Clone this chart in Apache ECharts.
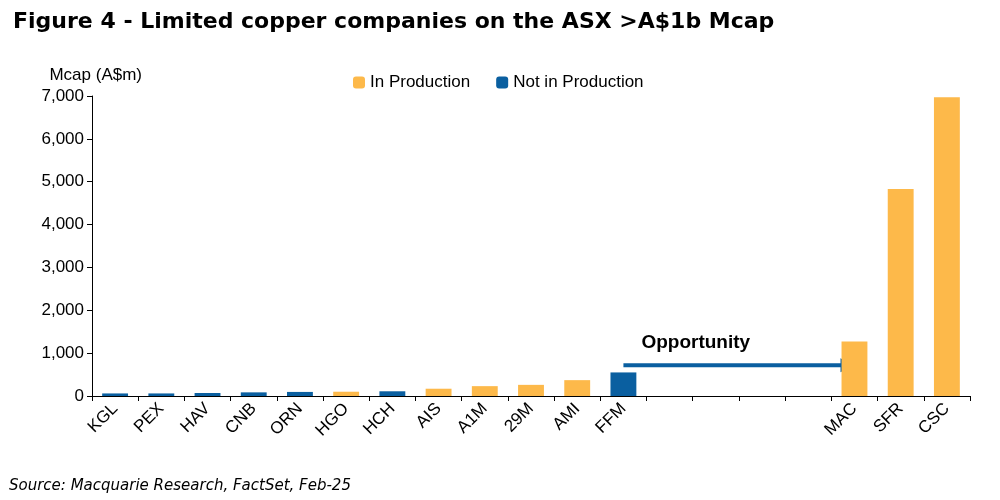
<!DOCTYPE html><html><head><meta charset="utf-8"><script src="https://cdn.jsdelivr.net/npm/echarts@6/dist/echarts.min.js"></script></head><body style="margin:0"><div id="c" style="width:1000px;height:500px"></div><script>
const categories=['KGL','PEX','HAV','CNB','ORN','HGO','HCH','AIS','A1M','29M','AMI','FFM','','','','','MAC','SFR','CSC'];
const inProduction=[null,null,null,null,null,100,null,170,230,260,370,null,null,null,null,null,1270,4830,6970];
const notInProduction=[60,60,70,85,95,null,110,null,null,null,null,550,null,null,null,null,null,null,null];
const yTicks=[0,1000,2000,3000,4000,5000,6000,7000];
const ch=echarts.init(document.getElementById('c'));
ch.setOption({
 animation:false,
 title:[{text:'Figure 4 - Limited copper companies on the ASX >A$1b Mcap',left:8,top:6,textStyle:{fontFamily:'DejaVu Sans',fontWeight:'bold',fontSize:22,color:'#000'}},
  {text:'Source: Macquarie Research, FactSet, Feb-25',left:4,top:474,textStyle:{fontFamily:'DejaVu Sans',fontStyle:'italic',fontWeight:'normal',fontSize:15,color:'#000'}}],
 legend:{top:69,left:348,itemWidth:12,itemHeight:12,itemGap:26,textStyle:{fontFamily:'Liberation Sans',fontSize:17,color:'#000'},data:['In Production','Not in Production']},
 grid:{left:92,right:30,top:96,bottom:104},
 xAxis:{type:'category',data:categories,axisLine:{lineStyle:{color:'#000'}},axisTick:{show:true,lineStyle:{color:'#000'}},
  axisLabel:{rotate:45,interval:0,fontFamily:'Liberation Sans',fontSize:17,color:'#000',margin:10}},
 yAxis:{type:'value',min:0,max:7000,interval:1000,name:'Mcap (A$m)',nameLocation:'end',nameGap:12,nameTextStyle:{fontFamily:'Liberation Sans',fontSize:17,color:'#000',align:'right',padding:[0,-50,0,0]},
  splitLine:{show:false},axisLine:{show:true,lineStyle:{color:'#000'}},axisTick:{show:true,lineStyle:{color:'#000'}},
  axisLabel:{fontFamily:'Liberation Sans',fontSize:17,color:'#000',formatter:v=>v.toLocaleString('en-US')}},
 series:[{name:'In Production',type:'bar',stack:'a',data:inProduction,barWidth:'56%',itemStyle:{color:'#FDB94A'}},
  {name:'Not in Production',type:'bar',stack:'a',data:notInProduction,itemStyle:{color:'#0A5FA0'}}]
});
const p1=ch.convertToPixel({seriesIndex:0},[11.15,720]);const p2=ch.convertToPixel({seriesIndex:0},[15.5,720]);
ch.setOption({graphic:[{type:'line',shape:{x1:p1[0],y1:p1[1],x2:p2[0]-12,y2:p2[1]},style:{stroke:'#0A5FA0',lineWidth:4}},
 {type:'polygon',shape:{points:[[p2[0]-14,p2[1]-7],[p2[0],p2[1]],[p2[0]-14,p2[1]+7]]},style:{fill:'#0A5FA0'}},
 {type:'text',x:p1[0]+18,y:p1[1]-32,style:{text:'Opportunity',font:'bold 19px Liberation Sans',fill:'#000'}}]});
</script></body></html>
